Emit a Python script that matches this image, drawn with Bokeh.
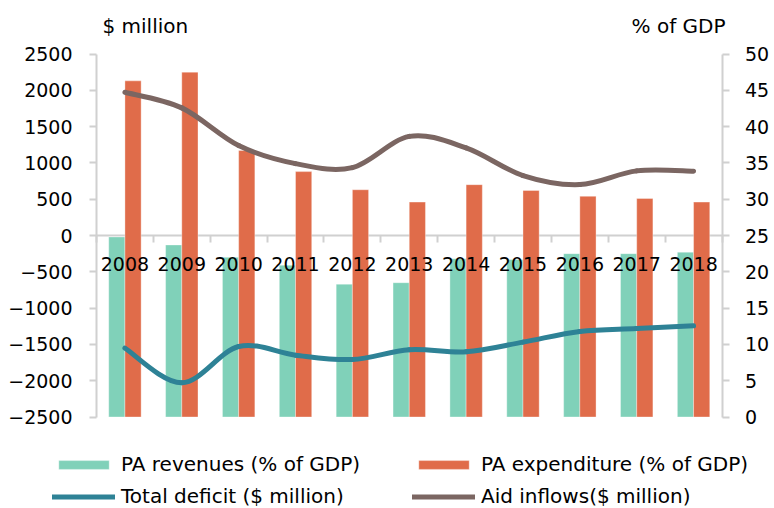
from bokeh.plotting import figure
from bokeh.models import (Range1d, LinearAxis, FixedTicker, Legend, LegendItem,
                          Label, ColumnDataSource)
from bokeh.transform import dodge
from bokeh.core.properties import value
from bokeh.embed import file_html
from bokeh.resources import INLINE

# ---------------- data ----------------
years = ["2008", "2009", "2010", "2011", "2012", "2013",
         "2014", "2015", "2016", "2017", "2018"]
revenues_pct = [24.8, 23.7, 22.0, 20.9, 18.3, 18.5, 21.8, 21.7, 22.5, 22.5, 22.7]
expenditure_pct = [46.3, 47.5, 36.7, 33.8, 31.3, 29.6, 32.0, 31.2, 30.4, 30.1, 29.6]
total_deficit = [-1552, -2029, -1529, -1648, -1708, -1574, -1602, -1469, -1322, -1281, -1244]
aid_inflows = [1973, 1758, 1239, 990, 935, 1365, 1207, 826, 702, 890, 885]
left_ticks = [-2500, -2000, -1500, -1000, -500, 0, 500, 1000, 1500, 2000, 2500]
right_ticks = [0, 5, 10, 15, 20, 25, 30, 35, 40, 45, 50]

# ---------------- styles / layout ----------------
FONT = "DejaVu Sans"
FS = "19px"
FS_BIG = "20px"
TEAL = "#80D1B9"
ORANGE = "#E06C4A"
DEFICIT = "#2E8296"
AID = "#7B6662"
AXIS = "#D0D0D0"

W, H = 774, 508
PL, PR, PT, PB = 96, 721.5, 53.5, 416.5   # plot area in pixels

n = len(years)
xc = [i + 0.5 for i in range(n)]
src = ColumnDataSource(dict(x=xc, year=years, rev=revenues_pct, exp=expenditure_pct))

# ranges stretched so that the plot area sits at the pixels above, the frame being the canvas
pxx = (PR - PL) / n
lo, hi = left_ticks[0], left_ticks[-1]
upl = (hi - lo) / (PB - PT)
plo, phi = right_ticks[0], right_ticks[-1]
upp = (phi - plo) / (PB - PT)

p = figure(width=W, height=H,
           x_range=Range1d(-PL / pxx, n + (W - PR) / pxx),
           y_range=Range1d(lo - (H - PB) * upl, hi + PT * upl),
           output_backend="svg", toolbar_location=None,
           min_border=0, min_border_left=0, min_border_right=0,
           min_border_top=0, min_border_bottom=0)
p.extra_y_ranges = {"pct": Range1d(plo - (H - PB) * upp, phi + PT * upp)}
p.xgrid.visible = False
p.ygrid.visible = False
p.outline_line_color = None
p.background_fill_color = "white"
p.border_fill_color = "white"


def style_axis(ax):
    ax.major_tick_in = 0
    ax.major_tick_out = 7
    ax.minor_tick_out = 0
    ax.minor_tick_in = 0
    ax.axis_line_color = AXIS
    ax.axis_line_width = 2
    ax.major_tick_line_color = AXIS
    ax.major_tick_line_width = 2
    ax.minor_tick_line_color = AXIS
    ax.minor_tick_line_width = 2
    ax.major_label_text_font = FONT
    ax.major_label_text_font_size = FS
    ax.major_label_text_color = "black"


# left axis ($ million)
ly = p.yaxis[0]
style_axis(ly)
ly.fixed_location = 0
ly.bounds = (lo, hi)
ly.ticker = FixedTicker(ticks=left_ticks)
ly.major_label_standoff = 17

# right axis (% of GDP)
ry = LinearAxis(y_range_name="pct", ticker=FixedTicker(ticks=right_ticks))
style_axis(ry)
ry.fixed_location = n
ry.bounds = (plo, phi)
ry.major_label_standoff = 16
p.add_layout(ry, "right")

# category axis along zero, tick marks between categories
xa = p.xaxis[0]
style_axis(xa)
xa.fixed_location = 0
xa.bounds = (0, n)
xa.ticker = FixedTicker(ticks=[], minor_ticks=list(range(n + 1)))
xa.minor_tick_out = 7
xa.level = "underlay"

# bars (% of GDP, right axis)
bw = 0.285
r_rev = p.vbar(x=dodge("x", -bw / 2, range=p.x_range), top="rev", bottom=0, width=bw,
               source=src, y_range_name="pct", fill_color=TEAL,
               line_color="white", line_alpha=0.35, line_width=1)
r_exp = p.vbar(x=dodge("x", bw / 2, range=p.x_range), top="exp", bottom=0, width=bw,
               source=src, y_range_name="pct", fill_color=ORANGE,
               line_color="white", line_alpha=0.35, line_width=1)

# year labels below the zero line
p.text(x="x", y=0, text="year", source=src, text_font=value(FONT),
       text_font_size=value(FS), text_align="center", text_baseline="middle",
       y_offset=28, text_color="black")


# smoothed lines ($ million, left axis)
def smooth(xs, ys):
    m = len(xs)
    d = dict(x0=[], y0=[], x1=[], y1=[], cx0=[], cy0=[], cx1=[], cy1=[])
    for i in range(m - 1):
        a = i - 1 if i > 0 else i
        b = i + 2 if i + 2 < m else i + 1
        d["x0"].append(xs[i]); d["y0"].append(ys[i])
        d["x1"].append(xs[i + 1]); d["y1"].append(ys[i + 1])
        d["cx0"].append(xs[i] + (xs[i + 1] - xs[a]) / 6)
        d["cy0"].append(ys[i] + (ys[i + 1] - ys[a]) / 6)
        d["cx1"].append(xs[i + 1] - (xs[b] - xs[i]) / 6)
        d["cy1"].append(ys[i + 1] - (ys[b] - ys[i]) / 6)
    return ColumnDataSource(d)


r_def = p.bezier(x0="x0", y0="y0", x1="x1", y1="y1", cx0="cx0", cy0="cy0", cx1="cx1", cy1="cy1",
                 source=smooth(xc, total_deficit), line_color=DEFICIT, line_width=5,
                 line_cap="round")
r_aid = p.bezier(x0="x0", y0="y0", x1="x1", y1="y1", cx0="cx0", cy0="cy0", cx1="cx1", cy1="cy1",
                 source=smooth(xc, aid_inflows), line_color=AID, line_width=5,
                 line_cap="round")

# axis titles
p.add_layout(Label(x=(102 - PL) / pxx, y=hi + (PT - 25.5) * upl, text="$ million",
                   text_align="left", text_baseline="middle", text_font=FONT,
                   text_font_size=FS_BIG, text_color="black"))
p.add_layout(Label(x=(725 - PL) / pxx, y=hi + (PT - 25.5) * upl, text="% of GDP",
                   text_align="right", text_baseline="middle", text_font=FONT,
                   text_font_size=FS_BIG, text_color="black"))

legend = Legend(items=[
    LegendItem(label="PA revenues (% of GDP)", renderers=[r_rev]),
    LegendItem(label="PA expenditure (% of GDP)", renderers=[r_exp]),
    LegendItem(label="Total deficit ($ million)", renderers=[r_def]),
    LegendItem(label="Aid inflows($ million)", renderers=[r_aid]),
], location=(52, 0), orientation="horizontal", ncols=2,
    glyph_width=63, glyph_height=11, label_standoff=6, label_width=283, label_height=22,
    spacing=8, padding=0, margin=0, border_line_color=None, background_fill_alpha=0,
    label_text_font=FONT, label_text_font_size=FS_BIG, label_text_color="black")
p.add_layout(legend, "center")

open("out.html", "w").write(file_html(p, INLINE))
